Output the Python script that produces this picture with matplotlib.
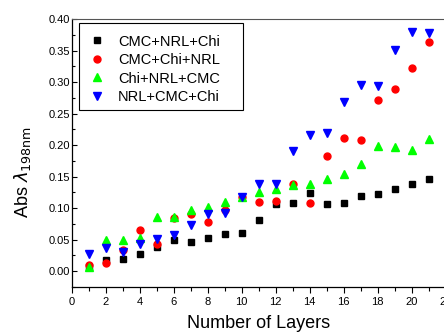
import matplotlib
matplotlib.use('Agg')
import matplotlib.pyplot as plt
from matplotlib.patches import Rectangle

plt.rcParams['font.family'] = ['Liberation Sans', 'DejaVu Sans']

layers = list(range(1, 22))
cmc_nrl_chi = [0.006, 0.0185, 0.0196, 0.028, 0.0385, 0.050, 0.046, 0.052, 0.0585, 0.061, 0.0817,
               0.106, 0.1086, 0.1234, 0.1066, 0.1086, 0.1186, 0.122, 0.131, 0.138, 0.1455]
cmc_chi_nrl = [0.0095, 0.0127, 0.033, 0.0654, 0.0438, 0.085, 0.091, 0.0775, 0.097, 0.117, 0.1097,
               0.112, 0.1386, 0.1086, 0.1834, 0.211, 0.2087, 0.271, 0.2883, 0.322, 0.3642]
chi_nrl_cmc = [0.0063, 0.050, 0.050, 0.0527, 0.0865, 0.0854, 0.097, 0.102, 0.110, 0.117, 0.1255,
               0.1297, 0.136, 0.1386, 0.1466, 0.154, 0.170, 0.1987, 0.197, 0.1924, 0.2093]
nrl_cmc_chi = [0.0275, 0.037, 0.031, 0.0433, 0.0517, 0.058, 0.0733, 0.090, 0.0923, 0.117, 0.139,
               0.139, 0.1913, 0.2166, 0.2193, 0.268, 0.2957, 0.2936, 0.3505, 0.3795, 0.3785]

fig = plt.figure(figsize=(4.44, 3.36), dpi=100)
ax = fig.add_axes([0.1615, 0.1458, 0.8423, 0.7976])

ax.plot(layers, cmc_nrl_chi, 's', color='black', ms=4.5, label='CMC+NRL+Chi')
ax.plot(layers, cmc_chi_nrl, 'o', color='#ff0000', ms=5, label='CMC+Chi+NRL')
ax.plot(layers, chi_nrl_cmc, '^', color='#00ff00', ms=6, label='Chi+NRL+CMC')
ax.plot(layers, nrl_cmc_chi, 'v', color='#0000ff', ms=6, label='NRL+CMC+Chi')

ax.set_xlim(0, 22)
ax.set_ylim(-0.025, 0.40)
ax.set_xticks(range(0, 23, 2))
ax.set_xticks(range(0, 23, 1), minor=True)
ax.set_yticks([0.0, 0.05, 0.10, 0.15, 0.20, 0.25, 0.30, 0.35, 0.40])
ax.set_yticks([-0.025 + 0.025 * i for i in range(18)], minor=True)
ax.set_yticklabels(['0.00', '0.05', '0.10', '0.15', '0.20', '0.25', '0.30', '0.35', '0.40'])

ax.tick_params(axis='x', which='major', direction='out', length=4.3, width=0.8, labelsize=8, pad=3)
ax.tick_params(axis='x', which='minor', direction='out', length=2.6, width=0.8)
ax.tick_params(axis='y', which='major', direction='in', length=3.6, width=0.8, labelsize=8, pad=1)
ax.tick_params(axis='y', which='minor', direction='in', length=2.2, width=0.8)

ax.spines['top'].set_color('#555555')
for s in ['left', 'bottom']:
    ax.spines[s].set_linewidth(0.9)

ax.set_xlabel('Number of Layers', fontsize=13)
ax.set_ylabel(r'Abs $\lambda_{198\mathrm{nm}}$', fontsize=13)
ax.xaxis.set_label_coords(0.5, -0.105)
ax.yaxis.set_label_coords(-0.103, 0.43)

# legend frame drawn separately (wider than the entries, like the original)
ax.add_patch(Rectangle((0.0203, 0.660), 0.4377, 0.3235, transform=ax.transAxes,
                       fill=True, facecolor='white', edgecolor='black', linewidth=0.8, zorder=4))
leg = ax.legend(loc='upper left', bbox_to_anchor=(0.0436, 0.942), fontsize=10.5,
                frameon=False, handletextpad=0.86, labelspacing=0.31, borderpad=0,
                handlelength=1.2, borderaxespad=0)
leg.set_zorder(5)

fig.savefig('out.png', dpi=100)
